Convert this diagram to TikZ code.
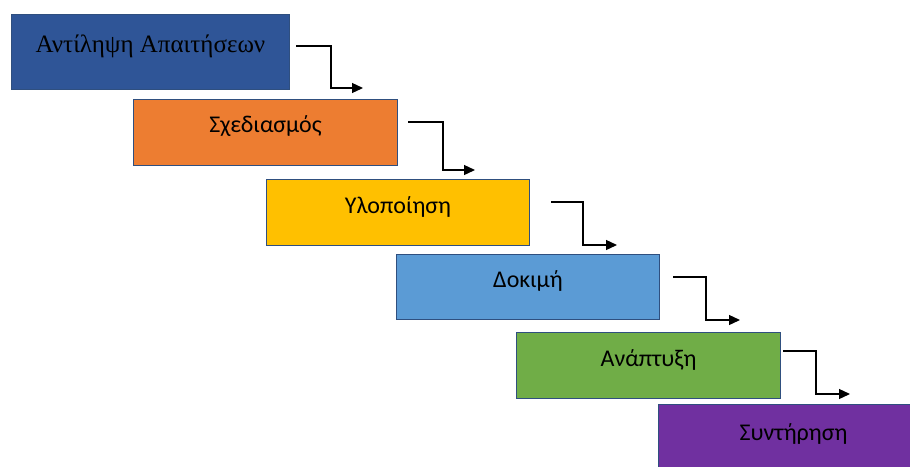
\documentclass[tikz,border=0pt]{standalone}
\usepackage{fontspec}
\setmainfont{Carlito}
\newfontfamily\serifgr{Liberation Serif}
\usetikzlibrary{arrows.meta,calc}
\definecolor{c1}{HTML}{2F5597}
\definecolor{c2}{HTML}{ED7D31}
\definecolor{c3}{HTML}{FFC000}
\definecolor{c4}{HTML}{5B9BD5}
\definecolor{c5}{HTML}{70AD47}
\definecolor{c6}{HTML}{7030A0}
\definecolor{edge}{HTML}{2F4F7F}
\tikzset{
  stage/.style={draw=edge, line width=1pt, rectangle, anchor=north west, inner sep=0pt},
  lbl/.style={anchor=base, yshift=6pt, font=\fontsize{24}{28}\selectfont, text=black},
  flow/.style={draw=black, line width=1.3pt, -{Triangle[length=11pt,width=10pt]}}
}
\begin{document}
\begin{tikzpicture}[x=1pt,y=-1pt]
\useasboundingbox (0,0) rectangle (910,466);
\clip (0,0) rectangle (910,466);
\node[stage, fill=c1, minimum width=278pt, minimum height=75pt,
  label={[lbl, font=\serifgr\fontsize{25}{29}\selectfont]center:Αντίληψη Απαιτήσεων}] (b1) at (11,14) {};
\node[stage, fill=c2, minimum width=264pt, minimum height=66pt,
  label={[lbl]center:Σχεδιασμός}] (b2) at (133,99) {};
\node[stage, fill=c3, minimum width=263pt, minimum height=66pt,
  label={[lbl]center:Υλοποίηση}] (b3) at (266,179) {};
\node[stage, fill=c4, minimum width=263pt, minimum height=65pt,
  label={[lbl]center:Δοκιμή}] (b4) at (396,254) {};
\node[stage, fill=c5, minimum width=264pt, minimum height=66pt,
  label={[lbl]center:Ανάπτυξη}] (b5) at (516,332) {};
\node[stage, fill=c6, minimum width=270pt, minimum height=70pt,
  label={[lbl]center:Συντήρηση}] (b6) at (658,404) {};
% connectors
\coordinate (s1) at (296,46);  \coordinate (k1) at (331,88);  \coordinate (e1) at (363,88);
\coordinate (s2) at (408,122); \coordinate (k2) at (443,170); \coordinate (e2) at (475,170);
\coordinate (s3) at (551,202); \coordinate (k3) at (583,245); \coordinate (e3) at (617,245);
\coordinate (s4) at (673,277); \coordinate (k4) at (706,320); \coordinate (e4) at (740,320);
\coordinate (s5) at (783,351); \coordinate (k5) at (816,394); \coordinate (e5) at (850,394);
\foreach \i in {1,...,5}{
  \draw[flow] (s\i) -| (k\i) -- (e\i);
}
\end{tikzpicture}
\end{document}
